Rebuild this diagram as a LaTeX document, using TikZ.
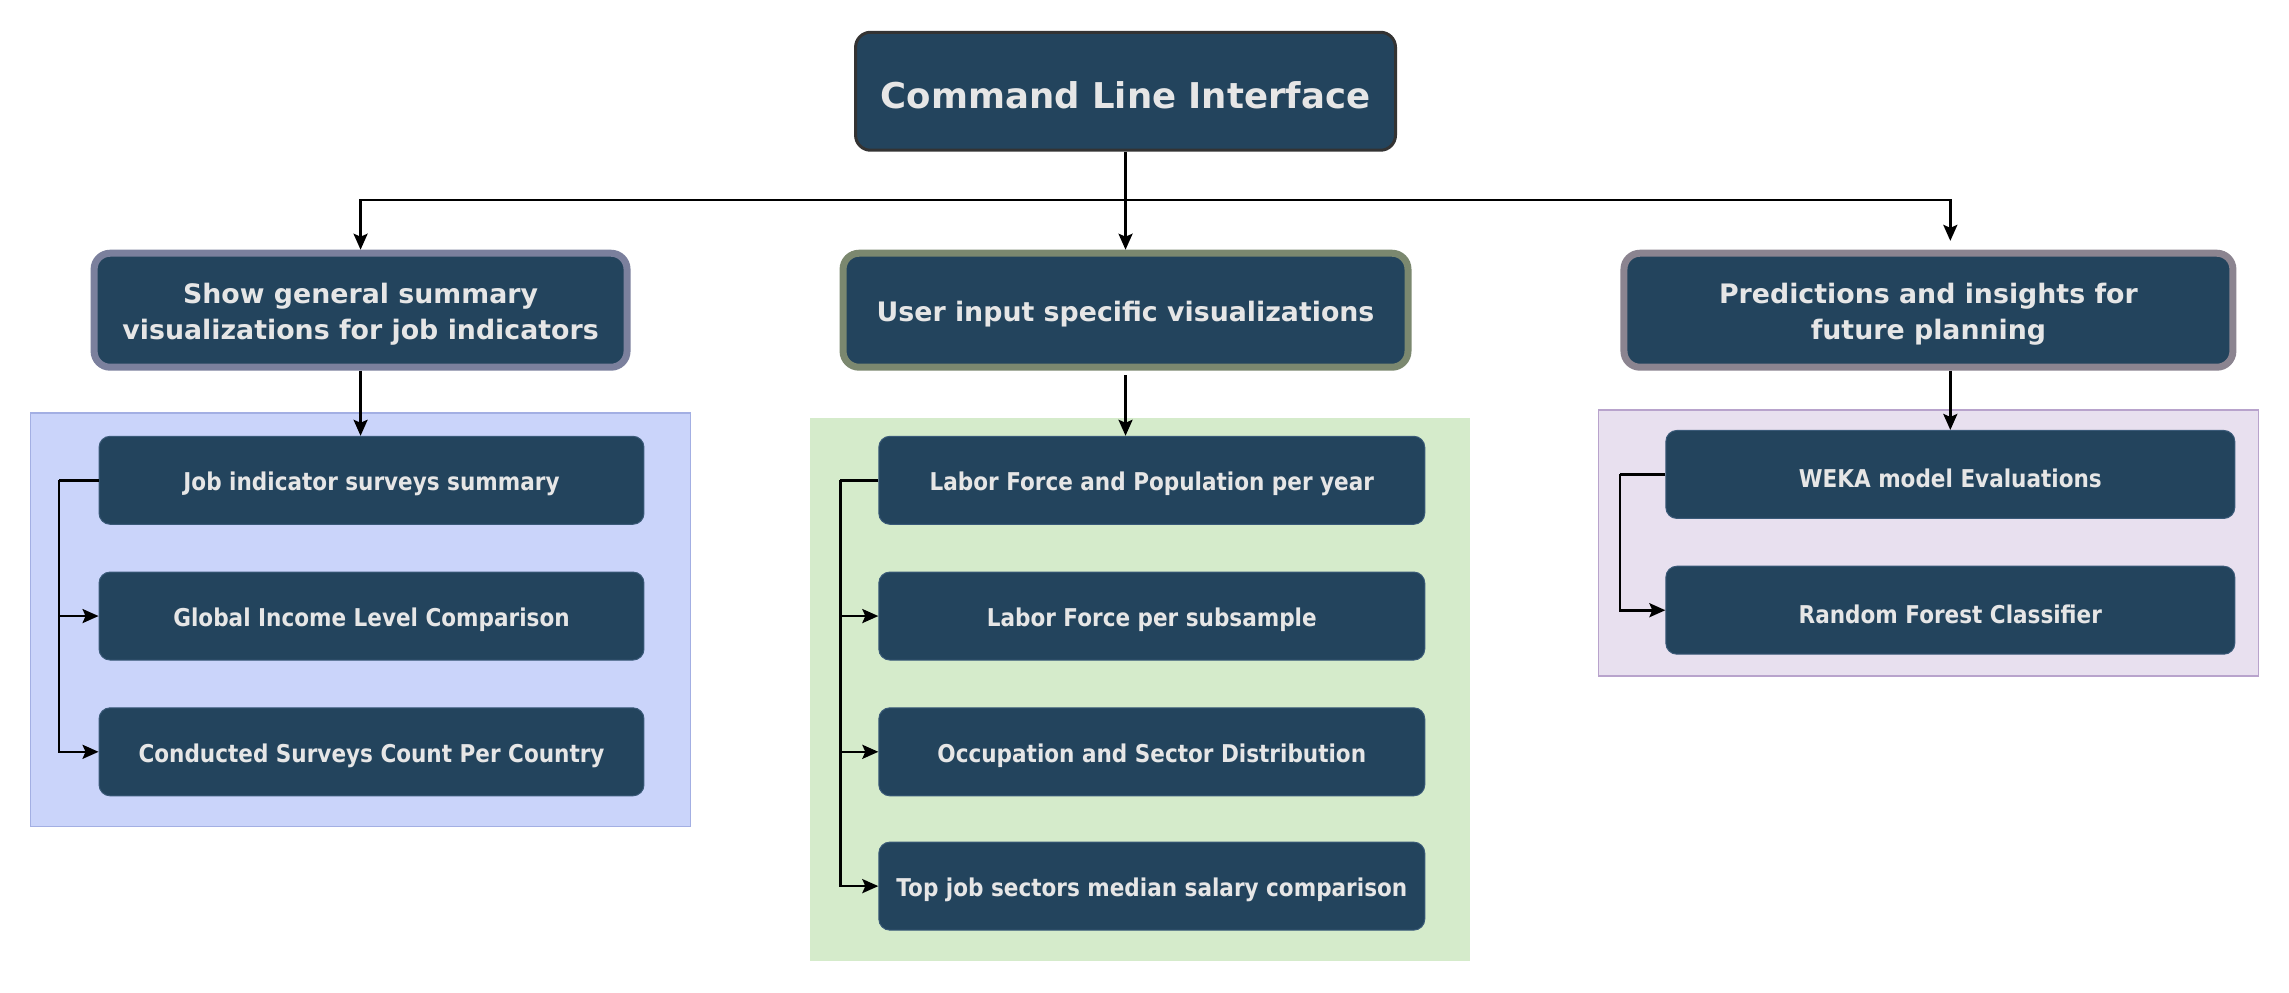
\documentclass[tikz,border=0pt]{standalone}
\usepackage{fontspec}
\setmainfont{DejaVu Sans}
\newfontfamily\hfont{DejaVu Sans}
\newfontfamily\cfont{DejaVu Sans}[FakeStretch=0.88]
\usetikzlibrary{arrows.meta,calc}
\definecolor{boxfill}{HTML}{23445D}
\definecolor{txt}{HTML}{E6E6E6}
\definecolor{topb}{HTML}{333333}
\definecolor{lb}{HTML}{7B809D}
\definecolor{mb}{HTML}{7B886F}
\definecolor{rb}{HTML}{8B8490}
\definecolor{lcf}{HTML}{CAD4FA}
\definecolor{lcb}{HTML}{A3AFE3}
\definecolor{mcf}{HTML}{D5EBCB}
\definecolor{rcf}{HTML}{E8E0EF}
\definecolor{rcb}{HTML}{B8A3CC}
\definecolor{childb}{HTML}{3A5A78}
\tikzset{
  topbox/.style={draw=topb, line width=3pt, fill=boxfill, rounded corners=15pt,
    minimum width=540pt, minimum height=118pt},
  toptxt/.style={text=txt, align=center, yshift=-4pt,
    font=\hfont\bfseries\fontsize{35.5}{42}\selectfont},
  lvlbox/.style={line width=7pt, fill=boxfill, rounded corners=16pt,
    minimum height=114pt},
  lvltxt/.style={text=txt, align=center, yshift=-4pt,
    font=\hfont\bfseries\fontsize{26.8}{36}\selectfont},
  childbox/.style={draw=childb, line width=1pt, fill=boxfill, rounded corners=11pt,
    minimum height=88pt},
  childtxt/.style={text=txt, align=center, yshift=-4pt,
    font=\cfont\bfseries\fontsize{24.5}{28}\selectfont},
  arr/.style={draw=black, line width=2.6pt, -{Stealth[length=16pt,width=14pt,inset=3pt]}},
  ln/.style={draw=black, line width=2.6pt}
}
\begin{document}
\begin{tikzpicture}[x=1.46pt,y=-1.46pt]
\useasboundingbox[fill=white] (0,0) rectangle (1568,680);
% containers
\draw[fill=lcf, draw=lcb, line width=1.5pt] (21,283) rectangle (473,566);
\fill[mcf] (555,286) rectangle (1007,658);
\draw[fill=rcf, draw=rcb, line width=1.5pt] (1095,281) rectangle (1547,463);
% top
\node[topbox, label={[toptxt]center:Command Line Interface}] (top) at (771,62.5) {};
% level 1
\node[lvlbox, draw=lb, minimum width=533pt, label={[lvltxt]center:{Show general summary\\visualizations for job indicators}}] (L1) at (247,212.5) {};
\node[lvlbox, draw=mb, minimum width=565pt, label={[lvltxt]center:User input specific visualizations}] (M1) at (771,212.5) {};
\node[lvlbox, draw=rb, minimum width=609pt, label={[lvltxt]center:{Predictions and insights for\\future planning}}] (R1) at (1321,212.5) {};
% children left
\node[childbox, minimum width=545pt, label={[childtxt]center:Job indicator surveys summary}] (LC1) at (254.5,329) {};
\node[childbox, minimum width=545pt, label={[childtxt]center:Global Income Level Comparison}] (LC2) at (254.5,422) {};
\node[childbox, minimum width=545pt, label={[childtxt]center:Conducted Surveys Count Per Country}] (LC3) at (254.5,515) {};
% children middle
\node[childbox, minimum width=546pt, label={[childtxt]center:Labor Force and Population per year}] (MC1) at (789,329) {};
\node[childbox, minimum width=546pt, label={[childtxt]center:Labor Force per subsample}] (MC2) at (789,422) {};
\node[childbox, minimum width=546pt, label={[childtxt]center:Occupation and Sector Distribution}] (MC3) at (789,515) {};
\node[childbox, minimum width=546pt, label={[childtxt]center:Top job sectors median salary comparison}] (MC4) at (789,607) {};
% children right
\node[childbox, minimum width=569pt, label={[childtxt]center:WEKA model Evaluations}] (RC1) at (1336,325) {};
\node[childbox, minimum width=569pt, label={[childtxt]center:Random Forest Classifier}] (RC2) at (1336,418) {};
% top connectors
\coordinate (bus) at (771,137);
\coordinate (rtip) at (1336,165);
\draw[ln] (top.south) -- (bus);
\draw[arr] (bus) -- (M1.north);
\draw[arr] (bus) -| (L1.north);
\draw[arr] (bus) -| (rtip);
% level to children
\draw[arr] (L1.south) -- (L1.south |- LC1.north);
\draw[arr] ($(M1.south)+(0,3)$) -- (M1.south |- MC1.north);
\draw[arr] (RC1.north |- R1.south) -- (RC1.north);
% brackets
\coordinate (lbr) at ($(LC1.west)+(-27,0)$);
\draw[ln] (LC1.west) -- (lbr);
\draw[arr] (lbr) |- (LC2.west);
\draw[arr] (lbr) |- (LC3.west);
\coordinate (mbr) at ($(MC1.west)+(-26,0)$);
\draw[ln] (MC1.west) -- (mbr);
\draw[arr] (mbr) |- (MC2.west);
\draw[arr] (mbr) |- (MC3.west);
\draw[arr] (mbr) |- (MC4.west);
\coordinate (rbr) at ($(RC1.west)+(-31,0)$);
\draw[ln] (RC1.west) -- (rbr);
\draw[arr] (rbr) |- (RC2.west);
\end{tikzpicture}
\end{document}
